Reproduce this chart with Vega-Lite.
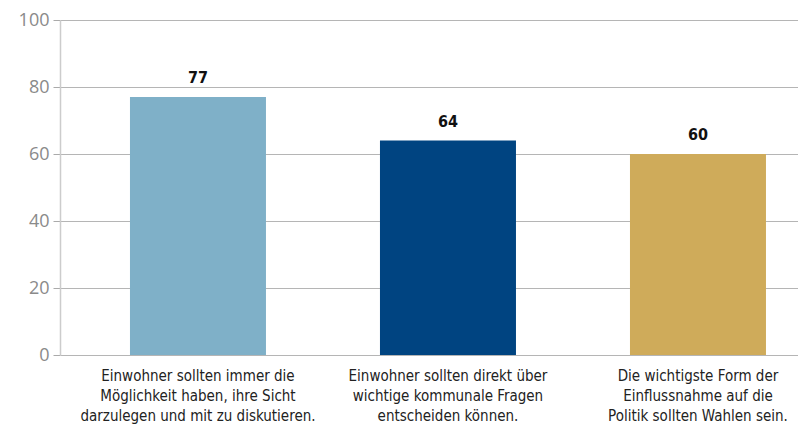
{
  "$schema": "https://vega.github.io/schema/vega-lite/v6.json",
  "width": 738,
  "height": 335,
  "autosize": {"type": "none"},
  "padding": {"left": 60, "top": 20, "right": 0, "bottom": 75},
  "background": "white",
  "data": {
    "values": [
      {"statement": "Einwohner sollten immer die\nMöglichkeit haben, ihre Sicht\ndarzulegen und mit zu diskutieren.", "value": 77, "order": 1},
      {"statement": "Einwohner sollten direkt über\nwichtige kommunale Fragen\nentscheiden können.", "value": 64, "order": 2},
      {"statement": "Die wichtigste Form der\nEinflussnahme auf die\nPolitik sollten Wahlen sein.", "value": 60, "order": 3}
    ]
  },
  "config": {
    "view": {"stroke": null},
    "font": "DejaVu Sans Condensed, Roboto, sans-serif"
  },
  "encoding": {
    "x": {
      "field": "statement",
      "type": "nominal",
      "sort": {"field": "order"},
      "scale": {"paddingInner": 0.456, "paddingOuter": 0.204, "align": 0.686},
      "axis": {
        "title": null,
        "labelAngle": 0,
        "domain": false,
        "ticks": false,
        "labelExpr": "split(datum.value, '\\n')",
        "labelFont": "DejaVu Sans Condensed, Roboto, sans-serif",
        "labelFontSize": 15,
        "labelLineHeight": 20,
        "labelColor": "#222222",
        "labelPadding": 13,
        "labelLimit": 400
      }
    },
    "y": {
      "field": "value",
      "type": "quantitative",
      "scale": {"domain": [0, 100]},
      "axis": {
        "title": null,
        "values": [0, 20, 40, 60, 80, 100],
        "domainColor": "#cccccc",
        "domainWidth": 1.5,
        "tickColor": "#aaaaaa",
        "tickSize": 7,
        "gridColor": "#b5b5b5",
        "labelFont": "Open Sans",
        "labelFontSize": 18,
        "labelColor": "#8a8a8a",
        "labelPadding": 4
      }
    }
  },
  "layer": [
    {
      "mark": {"type": "bar"},
      "encoding": {
        "color": {
          "field": "statement",
          "type": "nominal",
          "sort": {"field": "order"},
          "scale": {"range": ["#7FB0C8", "#004481", "#CFAB5A"]},
          "legend": null
        }
      }
    },
    {
      "mark": {"type": "text", "dy": -11, "baseline": "bottom", "fontWeight": "bold", "fontSize": 16, "font": "DejaVu Sans Condensed, Roboto, sans-serif", "color": "#111111"},
      "encoding": {"text": {"field": "value", "type": "quantitative"}}
    }
  ]
}
